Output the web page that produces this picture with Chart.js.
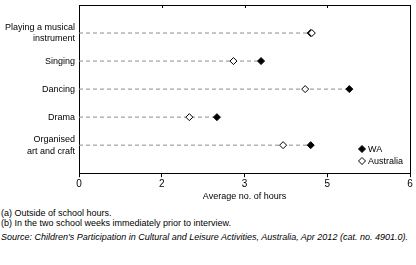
<!DOCTYPE html>
<html lang="en">
  <head>
    <meta charset="UTF-8" />
    <title>Average hours</title>
    <style>
      body {
        margin: 0;
        background: #fff;
        font-family: "Liberation Sans", Arial, sans-serif;
      }
      .wrap {
        position: relative;
        width: 416px;
        height: 265px;
      }
      .chart-box {
        position: absolute;
        left: 0;
        top: 0;
        width: 416px;
        height: 202px;
      }
      .note {
        position: absolute;
        left: 1px;
        font-size: 9px;
        color: #000;
        white-space: nowrap;
      }
    </style>
  </head>
  <body>
    <div class="wrap">
      <div class="chart-box"><canvas id="chart"></canvas></div>
      <div class="note" style="top: 208px">(a) Outside of school hours.</div>
      <div class="note" style="top: 218px">(b) In the two school weeks immediately prior to interview.</div>
      <div class="note" style="top: 232px; font-style: italic">Source: Children's Participation in Cultural and Leisure Activities, Australia, Apr 2012 (cat. no. 4901.0).</div>
    </div>

    <script src="https://cdn.jsdelivr.net/npm/chart.js"></script>
    <script>
      // categories, top to bottom
      const categories = [
        ["Playing a musical", "instrument"],
        "Singing",
        "Dancing",
        "Drama",
        ["Organised", "art and craft"],
      ];
      const waHours = [4.2, 3.3, 4.9, 2.5, 4.2];
      const ausHours = [4.22, 2.8, 4.1, 2.0, 3.7];
      const xTickValues = [0, 1.5, 3, 4.5, 6];
      const xTickLabels = ["0", "2", "3", "5", "6"];

      const FONT = "'Liberation Sans', Arial, sans-serif";

      // dashed guide lines, one per category, from 0 to the larger value
      const guideSets = categories.map((c, i) => ({
        type: "line",
        data: [
          { x: 0, y: i + 1 },
          { x: Math.max(waHours[i], ausHours[i]), y: i + 1 },
        ],
        borderColor: "#8c8c8c",
        borderWidth: 1,
        borderDash: [4, 3],
        pointRadius: 0,
        order: 3,
      }));

      const waSet = {
        label: "WA",
        data: waHours.map((v, i) => ({ x: v, y: i + 1 })),
        pointStyle: "rectRot",
        pointRadius: 3.5,
        backgroundColor: "#000",
        borderColor: "#000",
        borderWidth: 1,
        order: 2,
      };
      const ausSet = {
        label: "Australia",
        data: ausHours.map((v, i) => ({ x: v, y: i + 1 })),
        pointStyle: "rectRot",
        pointRadius: 3.5,
        backgroundColor: "#fff",
        borderColor: "#000",
        borderWidth: 1,
        order: 1,
      };

      // box around plot, inward ticks on top edge, legend in the corner
      const framePlugin = {
        id: "frame",
        afterDraw(chart) {
          const ctx = chart.ctx;
          const a = chart.chartArea;
          const xs = chart.scales.x;
          ctx.save();
          ctx.strokeStyle = "#000";
          ctx.lineWidth = 1;
          ctx.beginPath();
          ctx.moveTo(a.left, a.top + 0.5);
          ctx.lineTo(a.right + 0.5, a.top + 0.5);
          ctx.lineTo(a.right + 0.5, a.bottom);
          xTickValues.forEach((v) => {
            const px = Math.round(xs.getPixelForValue(v)) + 0.5;
            ctx.moveTo(px, a.top);
            ctx.lineTo(px, a.top + 3);
          });
          ctx.stroke();

          // legend
          const items = [waSet, ausSet];
          ctx.font = "9px " + FONT;
          ctx.textBaseline = "middle";
          items.forEach((d, k) => {
            const y = 149 + k * 12;
            ctx.fillStyle = d.backgroundColor;
            ctx.strokeStyle = d.borderColor;
            ctx.beginPath();
            ctx.moveTo(362, y - 3.5);
            ctx.lineTo(365.5, y);
            ctx.lineTo(362, y + 3.5);
            ctx.lineTo(358.5, y);
            ctx.closePath();
            ctx.fill();
            ctx.stroke();
            ctx.fillStyle = "#000";
            ctx.fillText(d.label, 368, y + 0.5);
          });
          ctx.restore();
        },
      };

      new Chart(document.getElementById("chart"), {
        type: "scatter",
        data: { datasets: [...guideSets, waSet, ausSet] },
        options: {
          responsive: true,
          maintainAspectRatio: false,
          animation: false,
          layout: { padding: { top: 5, right: 6, left: 0, bottom: 0 } },
          plugins: {
            legend: { display: false },
            tooltip: { enabled: false },
          },
          scales: {
            x: {
              type: "linear",
              min: 0,
              max: 6,
              afterBuildTicks: (s) => {
                s.ticks = xTickValues.map((v) => ({ value: v }));
              },
              afterFit: (s) => {
                s.paddingLeft = 0;
                s.paddingRight = 0;
              },
              ticks: {
                color: "#000",
                font: { family: FONT, size: 10 },
                padding: 1,
                maxRotation: 0,
                callback: (v) => xTickLabels[xTickValues.indexOf(v)],
              },
              grid: {
                drawOnChartArea: false,
                tickLength: 4,
                color: "#000",
              },
              border: { display: true, color: "#000" },
              title: {
                display: true,
                text: "Average no. of hours",
                color: "#000",
                font: { family: FONT, size: 9 },
                padding: { top: 0, bottom: 0 },
              },
            },
            y: {
              type: "linear",
              min: 0,
              max: 6,
              reverse: true,
              afterBuildTicks: (s) => {
                s.ticks = categories.map((c, i) => ({ value: i + 1 }));
              },
              afterFit: (s) => {
                s.width = 79;
                s.paddingTop = 0;
                s.paddingBottom = 0;
              },
              ticks: {
                color: "#000",
                font: { family: FONT, size: 9, lineHeight: 1.3 },
                padding: 4,
                callback: (v) => categories[v - 1],
              },
              grid: { display: false, drawTicks: false },
              border: { display: true, color: "#000" },
            },
          },
        },
        plugins: [framePlugin],
      });
    </script>
  </body>
</html>
